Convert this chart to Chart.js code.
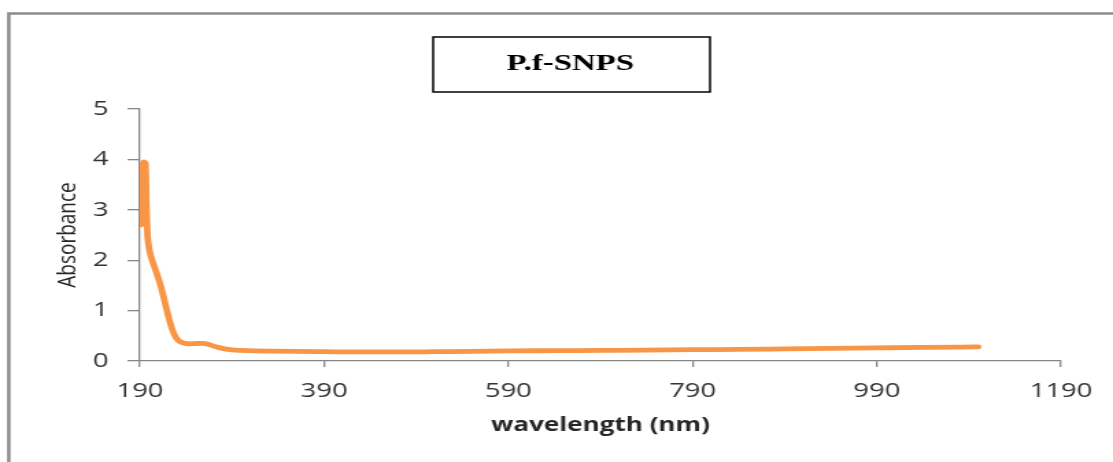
<!DOCTYPE html>
<html>
<head>
<meta charset="utf-8">
<script src="https://cdn.jsdelivr.net/npm/chart.js@4.4.1/dist/chart.umd.min.js"></script>
<style>
  html, body { margin: 0; padding: 0; background: #fff; overflow: hidden; }
  /* the reference is stretched sideways, so draw narrow and stretch */
  #wrap { width: 812px; height: 462px; transform: scaleX(1.3707); transform-origin: 0 0; }
</style>
</head>
<body>
<div id="wrap"><canvas id="spectrum" width="812" height="462"></canvas></div>
<script>
// chart data
const chartTitle = 'P.f-SNPS';
const wavelengths = [191, 192, 193, 194, 195, 196, 197, 198, 199, 201, 204, 207, 210, 213, 216, 219,
    222, 225, 228, 231, 235, 239, 244, 250, 256, 261, 266, 271, 276, 282, 290, 300, 315, 335, 360,
    390, 420, 450, 480, 510, 550, 590, 640, 690, 740, 790, 840, 890, 940, 990, 1040, 1100];
const absorbance = [2.70, 3.30, 3.90, 3.95, 3.94, 3.92, 3.10, 2.55, 2.35, 2.14, 1.96, 1.80, 1.64, 1.46, 1.25, 1.02,
    0.81, 0.63, 0.50, 0.42, 0.37, 0.35, 0.34, 0.345, 0.35, 0.345, 0.32, 0.29, 0.265, 0.24, 0.22, 0.21, 0.20, 0.195, 0.19,
    0.185, 0.18, 0.18, 0.18, 0.185, 0.19, 0.20, 0.205, 0.21, 0.215, 0.225, 0.23, 0.24, 0.25, 0.26, 0.27, 0.28];
const xTicks = [190, 390, 590, 790, 990, 1190];
const yTicks = [0, 1, 2, 3, 4, 5];

const axisGray = '#868686';
const textGray = '#333333';

// outer frame and the boxed title
const framePlugin = {
    id: 'frame',
    beforeDraw(chart) {
        const ctx = chart.ctx;
        ctx.save();
        ctx.strokeStyle = '#8c8c8c';
        ctx.lineWidth = 2.5;
        ctx.beginPath();
        ctx.moveTo(6.4, 462);
        ctx.lineTo(6.4, 13.5);
        ctx.lineTo(812, 13.5);
        ctx.stroke();
        ctx.restore();
    },
    afterDraw(chart) {
        const ctx = chart.ctx;
        ctx.save();
        ctx.strokeStyle = '#000';
        ctx.lineWidth = 1.5;
        ctx.strokeRect(316, 37, 202, 55);
        ctx.fillStyle = '#000';
        ctx.font = 'bold 24px "Liberation Serif", serif';
        ctx.textAlign = 'center';
        ctx.textBaseline = 'alphabetic';
        ctx.fillText(chartTitle, 416, 69.5);
        ctx.restore();
    }
};

function pointsFrom(xs, ys) {
    return xs.map((x, i) => ({ x: x, y: ys[i] }));
}

function createChart(ctx) {
    return new Chart(ctx, {
        type: 'line',
        data: {
            datasets: [{
                label: chartTitle,
                data: pointsFrom(wavelengths, absorbance),
                borderColor: '#f79646',
                borderWidth: 4.8,
                borderCapStyle: 'round',
                borderJoinStyle: 'round',
                pointRadius: 0,
                cubicInterpolationMode: 'monotone',
                fill: false,
            }],
        },
        options: {
            responsive: false,
            animation: false,
            layout: {
                padding: { top: 109, right: 37.9, bottom: 0, left: 0 },
            },
            plugins: {
                legend: { display: false },
                tooltip: { enabled: false },
                title: { display: false },
            },
            scales: {
                x: {
                    type: 'linear',
                    min: 190,
                    max: 1190,
                    afterBuildTicks: s => { s.ticks = xTicks.map(v => ({ value: v })); },
                    afterFit: s => { s.height = 101; },
                    grid: { drawOnChartArea: false, drawTicks: true, tickLength: 6, tickColor: axisGray, lineWidth: 1.3 },
                    border: { color: axisGray, width: 1.3 },
                    ticks: {
                        color: textGray,
                        font: { family: 'Open Sans', size: 20 },
                        padding: 12,
                        maxRotation: 0,
                        autoSkip: false,
                        callback: v => String(v),
                    },
                    title: {
                        display: true,
                        text: 'wavelength (nm)',
                        color: '#262626',
                        font: { family: 'Open Sans', size: 19, weight: 'bold' },
                        padding: { top: 0, bottom: 25 },
                    },
                },
                y: {
                    min: 0,
                    max: 5,
                    afterBuildTicks: s => { s.ticks = yTicks.map(v => ({ value: v })); },
                    afterFit: s => { s.width = 102.1; },
                    grid: { drawOnChartArea: false, drawTicks: true, tickLength: 9, tickColor: axisGray, lineWidth: 1.3 },
                    border: { color: axisGray, width: 1.3 },
                    ticks: {
                        color: textGray,
                        font: { family: 'Open Sans', size: 20 },
                        padding: 14,
                        callback: v => String(v),
                    },
                    title: {
                        display: true,
                        text: 'Absorbance',
                        color: '#262626',
                        font: { family: 'Open Sans', size: 19 },
                        padding: { top: 38, bottom: 0 },
                    },
                },
            },
        },
        plugins: [framePlugin],
    });
}

window.onload = function () {
    const ctx = document.getElementById('spectrum').getContext('2d');
    createChart(ctx);
};
</script>
</body>
</html>
